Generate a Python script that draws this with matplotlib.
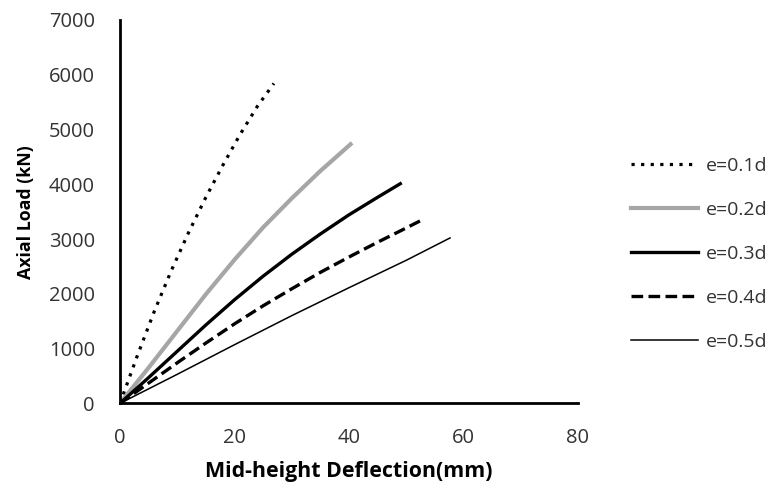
import matplotlib.pyplot as plt

# e = 0.1d .. 0.5d (deflection mm, load kN)
x_01 = [0, 3, 6, 9, 12, 15, 18, 21, 24, 26.9]
y_01 = [0, 860, 1680, 2430, 3120, 3760, 4350, 4910, 5420, 5840]

x_02 = [0, 5, 10, 15, 20, 25, 30, 35, 40.3]
y_02 = [0, 650, 1320, 1990, 2620, 3210, 3740, 4240, 4730]

x_03 = [0, 5, 10, 15, 20, 25, 30, 35, 40, 45, 49]
y_03 = [0, 470, 950, 1430, 1890, 2320, 2720, 3090, 3440, 3760, 4010]

x_04 = [0, 5, 10, 15, 20, 25, 30, 35, 40, 45, 50, 53]
y_04 = [0, 370, 740, 1100, 1450, 1780, 2090, 2390, 2670, 2940, 3200, 3360]

x_05 = [0, 10, 20, 30, 40, 50, 57.7]
y_05 = [0, 530, 1070, 1600, 2110, 2610, 3020]

labels = ["e=0.1d", "e=0.2d", "e=0.3d", "e=0.4d", "e=0.5d"]
x_ticks = [0, 20, 40, 60, 80]
y_ticks = [0, 1000, 2000, 3000, 4000, 5000, 6000, 7000]

plt.rcParams['font.family'] = ['Open Sans', 'DejaVu Sans']

fig = plt.figure(figsize=(7.77, 4.86), dpi=100)
ax = fig.add_axes([0.1544, 0.170, 0.589, 0.789])

ax.plot(x_01, y_01, color='black', lw=2.3, linestyle=(0, (1, 2)), label=labels[0])
ax.plot(x_02, y_02, color='#a6a6a6', lw=3.0, label=labels[1])
ax.plot(x_03, y_03, color='black', lw=2.4, label=labels[2])
ax.plot(x_04, y_04, color='black', lw=2.4, linestyle=(0, (3.5, 1.6)), label=labels[3])
ax.plot(x_05, y_05, color='black', lw=1.1, label=labels[4])

ax.set_xlim(0, 80)
ax.set_ylim(0, 7000)
ax.set_xticks(x_ticks)
ax.set_yticks(y_ticks)
ax.tick_params(length=0, labelsize=14.5, colors='#333333')
ax.tick_params(axis='y', pad=18)
ax.tick_params(axis='x', pad=18)

for side in ['top', 'right']:
    ax.spines[side].set_visible(False)
for side in ['left', 'bottom']:
    ax.spines[side].set_linewidth(2)

ax.set_xlabel("Mid-height Deflection(mm)", fontsize=15.4, fontweight='bold', labelpad=9)
ax.set_ylabel("Axial Load (kN)", fontsize=12.8, fontweight='bold', labelpad=10)

fig.legend(loc='center left', bbox_to_anchor=(0.79, 0.478), frameon=False,
           fontsize=14, handlelength=3.45, handletextpad=0.4, labelspacing=1.34,
           labelcolor='#333333')

fig.savefig("out.png", dpi=100)
